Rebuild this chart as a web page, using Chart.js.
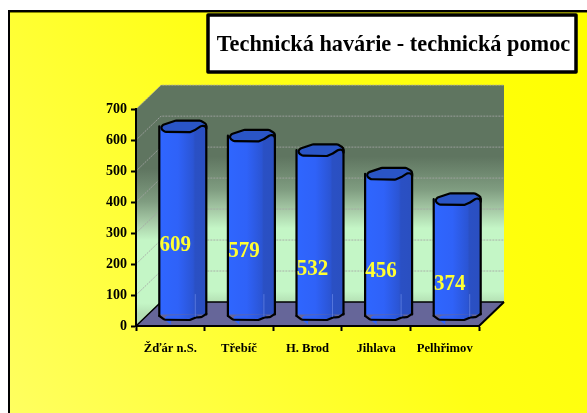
<!DOCTYPE html>
<html><head><meta charset="utf-8">
<style>html,body{margin:0;padding:0;background:#fff;overflow:hidden}#w{position:absolute;left:0;top:0;width:587px;height:413px}</style>
<script src="https://cdn.jsdelivr.net/npm/chart.js@4/dist/chart.umd.min.js"></script>
</head><body><div id="w"><canvas id="c" width="587" height="413"></canvas></div>
<script>
const categories = ['Žďár n.S.', 'Třebíč', 'H. Brod', 'Jihlava', 'Pelhřimov'];
const values = [609, 579, 532, 456, 374];
const titleText = 'Technická havárie - technická pomoc';
const yTicks = [0, 100, 200, 300, 400, 500, 600, 700];

const serif = '"Liberation Serif","Times New Roman",serif';
const DX = 25, DY = 24;         // depth of the 3D box
const BX = 12.5, BY = 11;       // bars stand in the middle of the depth
const labelShift = [13, 15, 25, 16, 16];
const capTop = [[-1,.25],[-.82,-.3],[-.3,-1],[.75,-1],[1,-.4],[1,-.15],[.78,-.05],[.55,.55],[.3,1],[-.75,.95]];
const capBot = [[-1,.25],[-.78,.95],[.3,1],[.55,.55],[.8,.45],[1,-.1]];

function path(ctx, pts, cx, cy, w, h, close){
  const P=pts.map(p=>[cx+p[0]*w,cy+p[1]*h]), n=P.length;
  ctx.beginPath();
  if(close){
    ctx.moveTo((P[0][0]+P[n-1][0])/2,(P[0][1]+P[n-1][1])/2);
    for(let i=0;i<n;i++){const q=P[(i+1)%n]; ctx.arcTo(P[i][0],P[i][1],q[0],q[1],3);}
    ctx.closePath();
  }else{
    ctx.moveTo(P[0][0],P[0][1]);
    for(let i=1;i<n-1;i++)ctx.arcTo(P[i][0],P[i][1],P[i+1][0],P[i+1][1],3);
    ctx.lineTo(P[n-1][0],P[n-1][1]);
  }
}

const box3d = {
  id:'box3d',
  afterLayout(chart){
    const t = chart.titleBlock;
    t.left=210; t.right=577; t.top=31.5; t.bottom=59.5; t.width=367;
  },
  beforeDraw(chart){
    const c=chart.ctx, a=chart.chartArea, ys=chart.scales.y;
    c.save();
    // page and frame
    const bg=c.createLinearGradient(587,12,10,413);
    bg.addColorStop(0,'#ffff00'); bg.addColorStop(.45,'#ffff14'); bg.addColorStop(1,'#ffff60');
    c.fillStyle=bg; c.fillRect(10,12,577,401);
    c.fillStyle='#000'; c.fillRect(8,10,579,2); c.fillRect(8,10,2,403);
    c.fillStyle='#8a8a00'; c.fillRect(10,12,577,1);
    // title box
    c.fillStyle='#fff'; c.strokeStyle='#000'; c.lineWidth=3.5; c.lineJoin='round';
    c.fillRect(208,15,368,57); c.strokeRect(208,15,368,57);
    // walls
    const top=ys.getPixelForValue(700), bot=ys.getPixelForValue(0);
    const wall=(o)=>{const g=c.createLinearGradient(0,top-DY+o,0,bot-DY+o);
      g.addColorStop(0,'#5f7560'); g.addColorStop(.33,'#5f7560'); g.addColorStop(.48,'#7f9c80');
      g.addColorStop(.58,'#a8cca8'); g.addColorStop(.66,'#c4f6c6'); g.addColorStop(.95,'#c4f6c6'); g.addColorStop(1,'#b4e0b4'); return g;};
    c.fillStyle=wall(0); c.fillRect(a.left+DX,top-DY,a.right-a.left,bot-top);
    c.fillStyle=wall(12); c.beginPath();
    c.moveTo(a.left,top); c.lineTo(a.left+DX,top-DY); c.lineTo(a.left+DX,bot-DY); c.lineTo(a.left,bot); c.closePath(); c.fill();
    // grid
    c.strokeStyle='rgba(165,165,165,.85)'; c.lineWidth=1; c.setLineDash([2,1]);
    yTicks.forEach(v=>{ if(v===0)return; const y=ys.getPixelForValue(v);
      c.beginPath(); c.moveTo(a.left,y); c.lineTo(a.left+DX,y-DY); c.lineTo(a.right+DX,y-DY); c.stroke();});
    c.setLineDash([]);
    // floor
    c.fillStyle='#666699'; c.strokeStyle='#000'; c.lineWidth=1.5; c.beginPath();
    c.moveTo(a.left,bot); c.lineTo(a.right,bot); c.lineTo(a.right+DX,bot-DY); c.lineTo(a.left+DX,bot-DY); c.closePath(); c.fill();
    c.beginPath(); c.moveTo(a.left,bot); c.lineTo(a.left+DX,bot-DY); c.lineTo(a.right+DX,bot-DY); c.stroke();
    c.lineWidth=2; c.beginPath(); c.moveTo(a.right,bot); c.lineTo(a.right+DX,bot-DY); c.stroke();
    c.restore();
  },
  beforeDatasetDraw(chart){ chart.ctx.save(); chart.ctx.translate(BX,-BY); },
  afterDatasetDraw(chart){
    const c=chart.ctx;
    c.strokeStyle='#000'; c.lineWidth=2.2; c.lineJoin='round'; c.lineCap='round';
    chart.getDatasetMeta(0).data.forEach(el=>{
      const w=el.width/2, x=el.x, y=el.y, b=el.base;
      // rounded foot
      path(c,capBot,x,b,w,5.5,true); c.fillStyle=el.options.backgroundColor; c.fill();
      path(c,capBot,x,b,w,5.5,false); c.stroke();
      // sides
      c.beginPath(); c.moveTo(x-w,y); c.lineTo(x-w,b+1.4); c.moveTo(x+w,y); c.lineTo(x+w,b); c.stroke();
      // faint highlight near the right edge
      c.save(); c.strokeStyle='rgba(120,150,240,.55)'; c.lineWidth=1;
      c.beginPath(); c.moveTo(x+w-11,Math.max(y,b-20)); c.lineTo(x+w-11,b+2); c.stroke(); c.restore();
      // top
      path(c,capTop,x,y,w,5.8,true); c.fillStyle='#2a55c6'; c.fill(); c.stroke();
    });
    c.restore();
  },
  afterDatasetsDraw(chart){
    const c=chart.ctx; c.save();
    c.fillStyle='#ffff33'; c.font='bold 24px '+serif; c.textAlign='center'; c.textBaseline='middle';
    chart.getDatasetMeta(0).data.forEach((el,i)=>{
      c.save();
      c.translate(el.x+5, (el.y+el.base)/2+labelShift[i]);
      c.scale(.875,1);
      c.fillText(String(values[i]),0,0);
      c.restore();
    });
    c.restore();
  }
};

new Chart(document.getElementById('c'),{
  type:'bar',
  data:{labels:categories,datasets:[{
    data:values,
    barPercentage:.685, categoryPercentage:1,
    borderWidth:0,
    backgroundColor(ctx){
      const ch=ctx.chart, xs=ch.scales.x;
      if(!xs||ctx.dataIndex===undefined)return '#2f62ff';
      const cx=xs.getPixelForValue(ctx.dataIndex), w=(xs.right-xs.left)/categories.length*.685/2;
      if(!isFinite(cx)||!isFinite(w))return '#2f62ff';
      const g=ch.ctx.createLinearGradient(cx-w,0,cx+w,0);
      g.addColorStop(0,'#2f66ff'); g.addColorStop(.4,'#2f62f8'); g.addColorStop(.72,'#2b55d4');
      g.addColorStop(.76,'#2a50c4'); g.addColorStop(1,'#2a4fc0');
      return g;
    }
  }]},
  plugins:[box3d],
  options:{
    responsive:false, animation:false,
    layout:{autoPadding:false,padding:{left:0,right:108,top:82.4,bottom:0}},
    plugins:{
      legend:{display:false},tooltip:{enabled:false},
      title:{display:true,text:titleText,color:'#000',align:'center',padding:0,
        font:{family:serif,size:22.3,weight:'bold'}}
    },
    scales:{
      x:{
        afterFit(s){s.height=87;},
        grid:{drawOnChartArea:false,tickLength:5,tickColor:'#000',tickWidth:2,offset:true},
        border:{display:true,color:'#000',width:2},
        ticks:{color:'#000',padding:10,maxRotation:0,autoSkip:false,font:{family:serif,size:12.6,weight:'bold'}}
      },
      y:{
        min:0,max:700,
        afterFit(s){s.width=136;},
        afterBuildTicks(s){s.ticks=yTicks.map(v=>({value:v}));},
        grid:{drawOnChartArea:false,tickLength:5,tickColor:'#000',tickWidth:2},
        border:{display:true,color:'#000',width:2},
        ticks:{color:'#000',padding:4,font:{family:serif,size:14,weight:'bold'}}
      }
    }
  }
});
</script></body></html>
